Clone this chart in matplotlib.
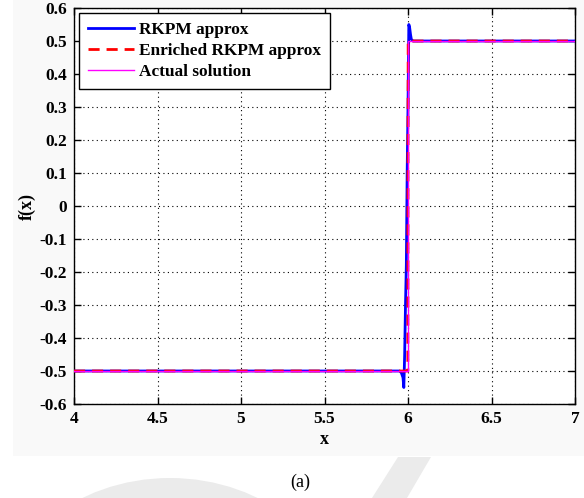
import matplotlib
matplotlib.use("Agg")
import matplotlib.pyplot as plt
from matplotlib.patches import Polygon, Circle, Rectangle

plt.rcParams['font.family'] = ['Liberation Serif', 'DejaVu Serif']

# RKPM approximation: sampled nodes, with Gibbs-like over/undershoot near the jump
x_rkpm = [4.0, 4.5, 5.0, 5.5, 5.9, 5.95, 5.96, 5.97, 5.975, 5.98, 5.985,
          5.99, 5.995, 6.0, 6.005, 6.01, 6.015, 6.02, 6.03, 6.05, 6.1, 6.5, 7.0]
f_rkpm = [-0.5, -0.5, -0.5, -0.5, -0.5, -0.5, -0.505, -0.52, -0.55, -0.45, -0.3,
          -0.18, 0.1, 0.3, 0.55, 0.54, 0.52, 0.505, 0.5, 0.5, 0.5, 0.5, 0.5]

# Enriched RKPM approximation
x_enr = [4.0, 5.0, 5.99, 5.999, 6.001, 6.01, 7.0]
f_enr = [-0.5, -0.5, -0.5, -0.5, 0.5, 0.5, 0.5]

# Exact step solution
x_act = [4.0, 6.0, 6.0, 7.0]
f_act = [-0.5, -0.5, 0.5, 0.5]

xticks = [4, 4.5, 5, 5.5, 6, 6.5, 7]
xtick_labels = ['4', '4.5', '5', '5.5', '6', '6.5', '7']
yticks = [-0.6, -0.5, -0.4, -0.3, -0.2, -0.1, 0, 0.1, 0.2, 0.3, 0.4, 0.5, 0.6]
ytick_labels = ['-0.6', '-0.5', '-0.4', '-0.3', '-0.2', '-0.1', '0',
                '0.1', '0.2', '0.3', '0.4', '0.5', '0.6']

W, H = 584, 498
fig = plt.figure(figsize=(W / 100, H / 100), dpi=100)


def fx(px):
    return px / W


def fy(py):
    return 1 - py / H


# faint grey page decorations
fig.patches.append(Rectangle((fx(13), fy(456)), fx(W - 13), 456 / H,
                             transform=fig.transFigure, facecolor='#f9f9f9',
                             edgecolor='none', zorder=-10))
fig.patches.append(Circle((fx(170), fy(628)), 150 / H,
                          transform=fig.transFigure, facecolor='#ebebeb',
                          edgecolor='none', zorder=-9))
fig.patches.append(Polygon([(fx(398), fy(457)), (fx(431), fy(457)),
                            (fx(407), fy(498)), (fx(372), fy(498))],
                           closed=True, transform=fig.transFigure,
                           facecolor='#ebebeb', edgecolor='none', zorder=-9))

ax = fig.add_axes([fx(74), fy(404), 501 / W, 396 / H])

ax.plot(x_rkpm, f_rkpm, color='#0000ff', lw=2.0, label='RKPM approx', zorder=3)
ax.plot(x_enr, f_enr, color='#ff0000', lw=2.0, ls=(0, (4, 2.5)),
        label='Enriched RKPM approx', zorder=4)
ax.plot(x_act, f_act, color='#ff00ff', lw=1.0, label='Actual solution', zorder=5)

ax.set_xlim(4, 7)
ax.set_ylim(-0.6, 0.6)
ax.set_xticks(xticks)
ax.set_xticklabels(xtick_labels)
ax.set_yticks(yticks)
ax.set_yticklabels(ytick_labels)
ax.tick_params(direction='in', length=5, width=1, labelsize=12.5, pad=5,
               top=True, right=True)
for lab in ax.get_xticklabels() + ax.get_yticklabels():
    lab.set_fontweight('bold')
ax.grid(True, color='black', ls=(0, (1, 3)), lw=0.8)
for s in ax.spines.values():
    s.set_linewidth(1.0)

ax.set_xlabel('x', fontsize=13, fontweight='bold', labelpad=3)
ax.set_ylabel('f(x)', fontsize=13, fontweight='bold', labelpad=3)

leg = ax.legend(loc='upper left', prop={'weight': 'bold', 'size': 12.4},
                frameon=True, fancybox=False, framealpha=1, edgecolor='black',
                handlelength=2.7, borderaxespad=0.3, labelspacing=0.3,
                borderpad=0.5, handletextpad=0.3)
leg.get_frame().set_linewidth(1.0)

fig.text(fx(300), fy(482), '(a)', ha='center', va='center', fontsize=13)

fig.savefig('out.png', dpi=100)
